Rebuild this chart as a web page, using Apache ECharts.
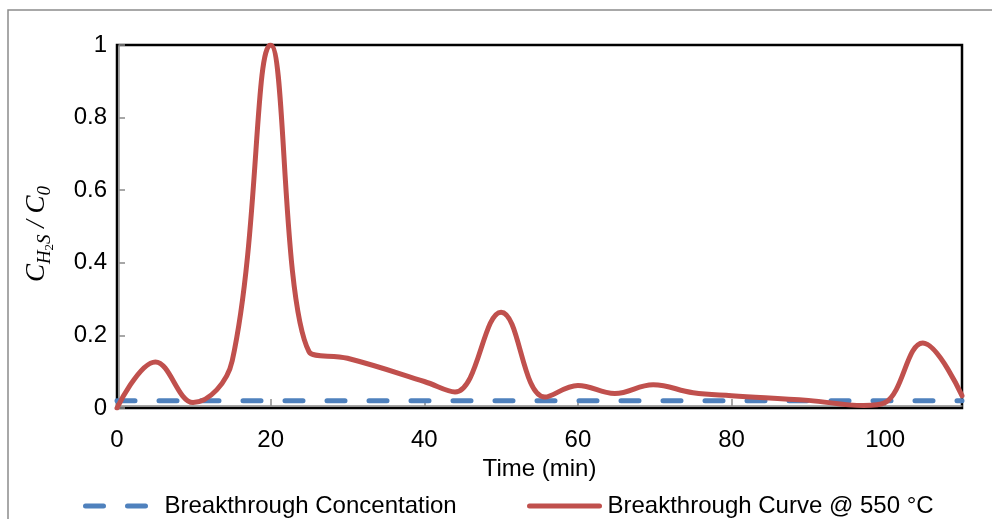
<!DOCTYPE html>
<html>
<head>
<meta charset="utf-8">
<script src="https://cdn.jsdelivr.net/npm/echarts@6/dist/echarts.min.js"></script>
<style>
html,body{margin:0;padding:0;background:#fff;}
#chart{width:992px;height:519px;}
</style>
</head>
<body>
<div id="chart"></div>
<script>
// ---- data (points placed at the visible turning points) ----
const timeMin  = [0, 5, 9.9, 15, 20, 25, 30, 40, 44, 50, 55.7, 60, 64.8, 69.8, 75, 80, 90, 97.2, 100, 104.9, 110];
const curve550 = [0, 0.127, 0.015, 0.13, 1.0, 0.155, 0.137, 0.073, 0.044, 0.264, 0.03, 0.062, 0.04, 0.064, 0.042, 0.034, 0.021, 0.007, 0.015, 0.179, 0.034];
const concTime = [0, 110];
const concValue = [0.02, 0.02];
const xTicks = [0, 20, 40, 60, 80, 100];
const yTicks = [0, 0.2, 0.4, 0.6, 0.8, 1];
const seriesNames = ['Breakthrough Concentation', 'Breakthrough Curve @ 550 °C'];

const FONT = '"Liberation Sans", Arial, sans-serif';
const SERIF = '"Liberation Serif", "DejaVu Serif", serif';
const chart = echarts.init(document.getElementById('chart'), null, {renderer: 'canvas'});

const legendBase = {
  padding: 0, itemHeight: 24, selectedMode: false,
  itemStyle: {opacity: 0, borderWidth: 0},
  lineStyle: {width: 5, cap: 'round', inactiveWidth: 5}
};

const option = {
  backgroundColor: '#fff',
  animation: false,
  grid: {left: 117, right: 30, top: 45, bottom: 111, show: true, borderColor: '#000', borderWidth: 2.5, backgroundColor: 'transparent'},
  xAxis: {
    type: 'value', min: 0, max: 110, interval: 20, offset: -2,
    name: 'Time (min)', nameLocation: 'middle', nameGap: 45,
    nameTextStyle: {fontFamily: FONT, fontSize: 24, color: '#000'},
    axisLine: {show: true, lineStyle: {color: '#8a8a8a', width: 1.5}},
    axisTick: {show: true, inside: true, length: 7, lineStyle: {color: '#8a8a8a', width: 1.5}},
    axisLabel: {fontFamily: FONT, fontSize: 24, color: '#000', margin: 22, showMaxLabel: false,
      formatter: v => xTicks.indexOf(v) >= 0 ? String(v) : ''},
    splitLine: {show: false}
  },
  yAxis: {
    type: 'value', min: 0, max: 1, interval: 0.2, offset: -2,
    axisLine: {show: true, lineStyle: {color: '#8a8a8a', width: 1.5}},
    axisTick: {show: true, inside: true, length: 6, lineStyle: {color: '#8a8a8a', width: 1.5}},
    axisLabel: {fontFamily: FONT, fontSize: 24, color: '#000', margin: 12,
      formatter: v => { const t = yTicks.find(k => Math.abs(k - v) < 1e-9); return t === undefined ? '' : String(t); }},
    splitLine: {show: false}
  },
  legend: [
    Object.assign({}, legendBase, {data: [seriesNames[0]], left: 83, top: 494, itemWidth: 65,
      lineStyle: {width: 5, cap: 'round', type: [18, 24]},
      textStyle: {fontFamily: FONT, fontSize: 24, color: '#000', padding: [0, 0, 0, 9]}}),
    Object.assign({}, legendBase, {data: [seriesNames[1]], left: 527, top: 494, itemWidth: 70,
      textStyle: {fontFamily: FONT, fontSize: 24, color: '#000', padding: [0, 0, 0, 3]}})
  ],
  graphic: [
    {type: 'rect', shape: {x: 8, y: 10, width: 1000, height: 530}, style: {fill: 'none', stroke: '#8c8c8c', lineWidth: 1.5}, silent: true, z: -1},
    {type: 'text', x: 37, y: 234, rotation: Math.PI / 2,
     style: {
       text: '{c|C}{s|H}{ss|2}{s|S}{c| / C}{s|0}',
       align: 'center', verticalAlign: 'middle',
       rich: {
         c: {fontFamily: SERIF, fontStyle: 'italic', fontSize: 27, lineHeight: 27, verticalAlign: 'top', fill: '#000'},
         s: {fontFamily: SERIF, fontStyle: 'italic', fontSize: 19, lineHeight: 19, padding: [12, 0, 0, 0], verticalAlign: 'top', fill: '#000'},
         ss: {fontFamily: SERIF, fontSize: 13, lineHeight: 13, padding: [20, 0, 0, 0], verticalAlign: 'top', fill: '#000'}
       }
     }}
  ],
  series: [
    {name: seriesNames[0], type: 'line', symbol: 'none', showSymbol: false,
     data: concTime.map((t, i) => [t, concValue[i]]),
     lineStyle: {color: '#4F81BD', width: 5, type: [18, 24], cap: 'round'},
     itemStyle: {color: '#4F81BD'}, z: 2},
    {name: seriesNames[1], type: 'line', symbol: 'none', showSymbol: false, smooth: 0.4,
     data: timeMin.map((t, i) => [t, curve550[i]]),
     lineStyle: {color: '#C0504D', width: 5, cap: 'round', join: 'round'},
     itemStyle: {color: '#C0504D'}, z: 3}
  ]
};
chart.setOption(option);
</script>
</body>
</html>
